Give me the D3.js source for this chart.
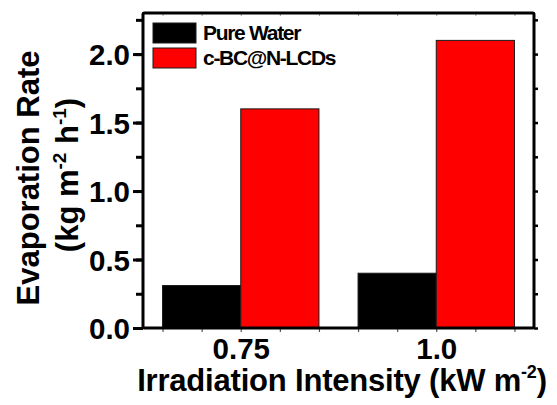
<!DOCTYPE html>
<html>
<head>
<meta charset="utf-8">
<title>Evaporation rate</title>
<script src="https://d3js.org/d3.v7.min.js"></script>
<style>
  body { margin: 0; background: #fff; }
  svg text { font-family: "Liberation Sans", Arial, sans-serif; font-weight: bold; fill: #000; }
</style>
</head>
<body>
<div id="chart"></div>
<script>
// data
var intensities = [0.75, 1.0];
var intensityLabels = ["0.75", "1.0"];
var seriesNames = ["Pure Water", "c-BC@N-LCDs"];
var pureWater = [0.31, 0.40];
var cbcLcds = [1.60, 2.10];
var yTicks = [0, 0.5, 1.0, 1.5, 2.0];

var W = 557, H = 405;
var mLeft = 143, mRight = 534, mTop = 13, mBottom = 328;
var barW = 0.1;   // bar width in x units (Origin style)

var svg = d3.select("#chart").append("svg")
    .attr("width", W).attr("height", H);

var x = d3.scaleLinear().domain([0.625, 1.125]).range([mLeft, mRight]);
var y = d3.scaleLinear().domain([0, 2.3]).range([mBottom, mTop]);

var colors = ["#000000", "#ff0000"];
var series = [pureWater, cbcLcds];

// bars
series.forEach(function(vals, s) {
  svg.append("g").selectAll("rect")
    .data(vals)
    .join("rect")
    .attr("x", function(d, i) { return x(intensities[i] + (s - 1) * barW); })
    .attr("width", function(d, i) { return x(intensities[i] + s * barW) - x(intensities[i] + (s - 1) * barW); })
    .attr("y", function(d) { return y(d); })
    .attr("height", function(d) { return y(0) - y(d); })
    .attr("fill", colors[s])
    .attr("stroke", "#1a1a1a")
    .attr("stroke-width", 1);
});

// left axis: major + minor ticks
var minorY = d3.range(0, 2.3, 0.25);
svg.append("g").attr("transform", "translate(" + mLeft + ",0)")
  .call(d3.axisLeft(y).tickValues(minorY).tickSize(7).tickFormat(""))
  .call(function(g) { g.select(".domain").remove(); g.selectAll("line").attr("stroke-width", 3); });

var yAxis = svg.append("g").attr("transform", "translate(" + mLeft + ",0)")
  .call(d3.axisLeft(y).tickValues(yTicks).tickSize(10).tickPadding(3).tickFormat(d3.format(".1f")));
yAxis.select(".domain").remove();
yAxis.selectAll("line").attr("stroke-width", 3);
yAxis.selectAll("text").attr("font-size", 29.5).attr("dy", "0.36em")
  .style("font-family", "'Liberation Sans', Arial, sans-serif").style("font-weight", "bold");

// right axis (mirror ticks)
svg.append("g").attr("transform", "translate(" + mRight + ",0)")
  .call(d3.axisRight(y).tickValues(minorY).tickSize(4).tickFormat(""))
  .call(function(g) { g.select(".domain").remove(); g.selectAll("line").attr("stroke-width", 2.5); });

// bottom axis
var minorX = d3.range(0.65, 1.11, 0.05);
svg.append("g").attr("transform", "translate(0," + mBottom + ")")
  .call(d3.axisBottom(x).tickValues(minorX).tickSize(4).tickFormat(""))
  .call(function(g) { g.select(".domain").remove(); g.selectAll("line").attr("stroke", "#555").attr("stroke-width", 1.2); });

var xAxis = svg.append("g").attr("transform", "translate(0," + mBottom + ")")
  .call(d3.axisBottom(x).tickValues(intensities).tickSize(0).tickPadding(10)
    .tickFormat(function(d, i) { return intensityLabels[i]; }));
xAxis.select(".domain").remove();
xAxis.selectAll("text").attr("font-size", 29.5).attr("dy", "0.71em")
  .style("font-family", "'Liberation Sans', Arial, sans-serif").style("font-weight", "bold");

// top axis (faint inward ticks)
svg.append("g").attr("transform", "translate(0," + mTop + ")")
  .call(d3.axisBottom(x).tickValues(minorX).tickSize(3).tickFormat(""))
  .call(function(g) { g.select(".domain").remove(); g.selectAll("line").attr("stroke", "#999").attr("stroke-width", 1); });

// frame
svg.append("rect")
  .attr("x", mLeft).attr("y", mTop)
  .attr("width", mRight - mLeft).attr("height", mBottom - mTop)
  .attr("fill", "none").attr("stroke", "#000").attr("stroke-width", 3)
  .attr("rx", 1.5);

// legend
var legend = svg.append("g");
seriesNames.forEach(function(name, s) {
  legend.append("rect")
    .attr("x", 153).attr("y", 23 + s * 25)
    .attr("width", 43).attr("height", 20)
    .attr("fill", colors[s]).attr("stroke", "#1a1a1a").attr("stroke-width", 1);
  legend.append("text")
    .attr("x", 203).attr("y", 40 + s * 25)
    .attr("font-size", 21).attr("letter-spacing", -1.3)
    .text(name);
});

// y title
var yt = svg.append("text")
  .attr("transform", "translate(39,178) rotate(-90)")
  .attr("text-anchor", "middle").attr("font-size", 31);
yt.append("tspan").text("Evaporation Rate");

var yt2 = svg.append("text")
  .attr("transform", "translate(78,175) rotate(-90)")
  .attr("text-anchor", "middle").attr("font-size", 31);
yt2.append("tspan").text("(kg m");
yt2.append("tspan").attr("font-size", 19).attr("dy", -12).text("-2");
yt2.append("tspan").attr("dy", 12).text(" h");
yt2.append("tspan").attr("font-size", 19).attr("dy", -12).text("-1");
yt2.append("tspan").attr("dy", 12).text(")");

// x title
var xt = svg.append("text")
  .attr("x", 342).attr("y", 391)
  .attr("text-anchor", "middle").attr("font-size", 31).attr("letter-spacing", -0.2);
xt.append("tspan").text("Irradiation Intensity (kW m");
xt.append("tspan").attr("font-size", 18).attr("dy", -13).text("-2");
xt.append("tspan").attr("dy", 13).text(")");
</script>
</body>
</html>
